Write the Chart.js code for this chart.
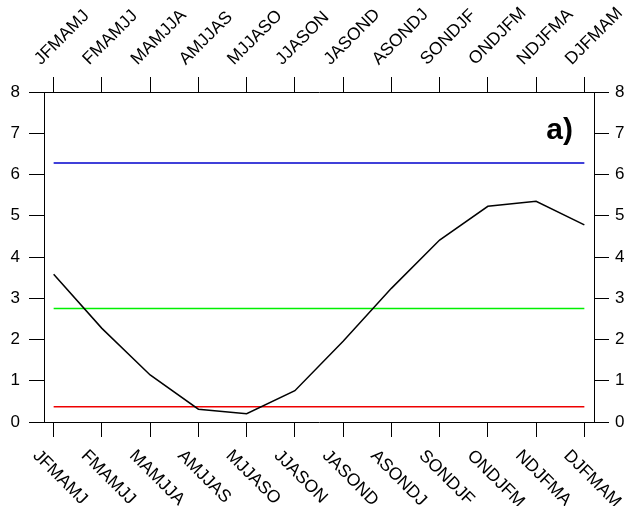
<!DOCTYPE html>
<html>
<head>
<meta charset="utf-8">
<script src="https://cdn.jsdelivr.net/npm/chart.js@4"></script>
<style>
  html, body { margin: 0; padding: 0; background: #fff; }
  #wrap { width: 628px; height: 506px; }
</style>
</head>
<body>
<div id="wrap"><canvas id="chart" width="628" height="506"></canvas></div>
<script>
// running 6-month seasons
const seasons = ['JFMAMJ', 'FMAMJJ', 'MAMJJA', 'AMJJAS', 'MJJASO', 'JJASON',
                 'JASOND', 'ASONDJ', 'SONDJF', 'ONDJFM', 'NDJFMA', 'DJFMAM'];
const seasonValues = [3.58, 2.27, 1.14, 0.31, 0.20, 0.76, 1.96, 3.24, 4.41, 5.23, 5.35, 4.78];

// reference levels (flat lines)
const blueLevel = 6.28;
const greenLevel = 2.75;
const redLevel = 0.37;

const yTicks = [0, 1, 2, 3, 4, 5, 6, 7, 8];
const panelLabel = 'a)';

const labelFont = '17.5px "Liberation Sans", Arial, sans-serif';

function flat(level) {
  return [{ x: 0, y: level }, { x: seasons.length - 1, y: level }];
}

// draws rotated season names top and bottom + the panel letter
const seasonLabels = {
  id: 'seasonLabels',
  afterDraw(chart) {
    const ctx = chart.ctx;
    const area = chart.chartArea;
    const xs = chart.scales.x;
    ctx.save();
    ctx.fillStyle = '#000';
    ctx.font = labelFont;
    ctx.textBaseline = 'middle';
    ctx.textAlign = 'left';
    seasons.forEach((s, i) => {
      const px = xs.getPixelForValue(i);
      // top, reading upwards
      ctx.save();
      ctx.translate(px - 16, area.top - 30);
      ctx.rotate(-Math.PI / 4);
      ctx.fillText(s, 0, 0);
      ctx.restore();
      // bottom, reading downwards
      ctx.save();
      ctx.translate(px - 18, area.bottom + 31);
      ctx.rotate(Math.PI / 4);
      ctx.fillText(s, 0, 0);
      ctx.restore();
    });
    ctx.font = 'bold 30px "Liberation Sans", Arial, sans-serif';
    ctx.textAlign = 'right';
    ctx.textBaseline = 'alphabetic';
    ctx.fillText(panelLabel, area.right - 21, area.top + 47);
    ctx.restore();
  }
};

function xAxis(pos, h) {
  return {
    type: 'linear',
    position: pos,
    min: -0.2,
    max: seasons.length - 1 + 0.2,
    afterBuildTicks: s => { s.ticks = seasons.map((_, i) => ({ value: i })); },
    afterFit: s => { s.height = h; },
    ticks: { display: false },
    grid: { drawOnChartArea: false, tickLength: 15, color: '#000', tickColor: '#000', lineWidth: 1 },
    border: { display: true, color: '#000', width: 1 }
  };
}

function yAxis(pos, w, pad) {
  return {
    type: 'linear',
    position: pos,
    min: 0,
    max: 8,
    afterBuildTicks: s => { s.ticks = yTicks.map(v => ({ value: v })); },
    afterFit: s => { s.width = w; },
    ticks: {
      color: '#000',
      padding: pad,
      font: { family: '"Liberation Sans", Arial, sans-serif', size: 17 }
    },
    grid: { drawOnChartArea: false, tickLength: 15, color: '#000', tickColor: '#000', lineWidth: 1 },
    border: { display: true, color: '#000', width: 1 }
  };
}

new Chart(document.getElementById('chart'), {
  type: 'line',
  data: {
    datasets: [
      {
        data: seasonValues.map((v, i) => ({ x: i, y: v })),
        borderColor: '#000', borderWidth: 1.5, pointRadius: 0, tension: 0,
        xAxisID: 'x', yAxisID: 'y'
      },
      { data: flat(blueLevel), borderColor: '#0000cc', borderWidth: 1.5, pointRadius: 0, xAxisID: 'x', yAxisID: 'y' },
      { data: flat(greenLevel), borderColor: '#00f000', borderWidth: 1.5, pointRadius: 0, xAxisID: 'x', yAxisID: 'y' },
      { data: flat(redLevel), borderColor: '#ee0000', borderWidth: 1.5, pointRadius: 0, xAxisID: 'x', yAxisID: 'y' }
    ]
  },
  options: {
    responsive: false,
    animation: false,
    devicePixelRatio: 1,
    layout: { padding: 0 },
    plugins: { legend: { display: false }, tooltip: { enabled: false }, title: { display: false } },
    scales: {
      x: xAxis('bottom', 84),
      x2: xAxis('top', 92),
      y: yAxis('left', 44, 9),
      y2: yAxis('right', 34, 6)
    }
  },
  plugins: [seasonLabels]
});
</script>
</body>
</html>
